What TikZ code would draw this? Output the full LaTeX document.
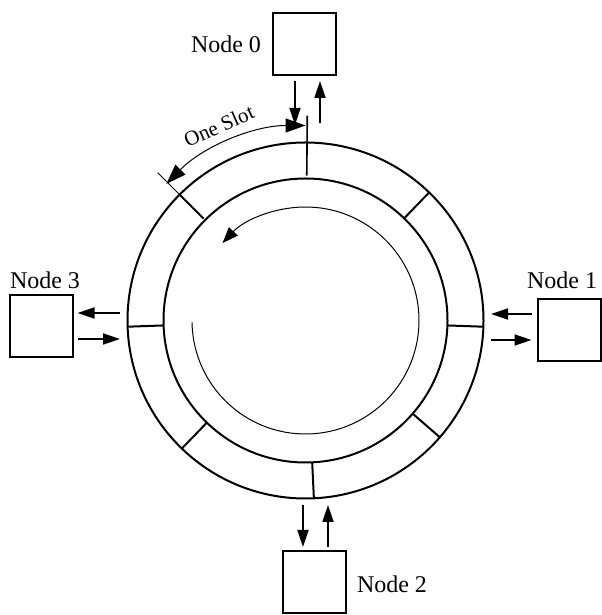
\documentclass[tikz,border=0pt]{standalone}
\usepackage{fontspec}
\setmainfont{Liberation Serif}
\usetikzlibrary{arrows.meta,calc}
\begin{document}
\begin{tikzpicture}[x=0.5pt,y=0.5pt,
  box/.style={draw,line width=1pt,minimum width=31.5pt,minimum height=31pt,inner sep=0pt},
  lbl/.style={font=\fontsize{12}{14}\selectfont,inner sep=0pt},
  ring/.style={line width=1pt},
  io/.style={line width=0.9pt,-{Triangle[length=8.5pt,width=5.5pt]}},
  dim/.style={line width=0.5pt},
  bigtip/.style={{Triangle[length=10pt,width=7pt]}-{Triangle[length=10pt,width=7pt]}},
]
\useasboundingbox (0,0) rectangle (601,615);
\coordinate (C) at (305.5,294.5);
% ring
\draw[ring] (C) circle[radius=178];
\draw[ring] (C) circle[radius=142];
\foreach \a in {46,-2,-41,272.7,226,182}
  \draw[ring] ($(C)+(\a:142)$) -- ($(C)+(\a:178)$);
\draw[line width=0.8pt] ($(C)+(89.5:145)$) -- ($(C)+(89.5:205)$);
\draw[ring] ($(C)+(135:144)$) -- ($(C)+(135:178)$);
\draw[dim] ($(C)+(135:178)$) -- ($(C)+(135:209)$);
% one slot dimension
\draw[dim,bigtip] ($(C)+(135.5:195)$) arc[start angle=135.5,end angle=90,radius=195];
\node[font=\fontsize{10.5}{12}\selectfont,rotate=24,inner sep=0pt] (slot) at ($(C)+(114:213)$) {One Slot};
% rotation arrow
\draw[line width=0.5pt,-{Triangle[length=8pt,width=6pt]}] ($(C)+(181:113.5)$) arc[start angle=181,end angle=497,radius=113.5];
% nodes
\node[box] (n0) at (304.5,571) {};
\node[box] (n3) at (41,288.5) {};
\node[box] (n1) at (569,284.5) {};
\node[box] (n2) at (314,33) {};
\node[lbl] (l0) at (226,571) {Node 0};
\node[lbl] (l3) at (45,335) {Node 3};
\node[lbl] (l1) at (562,335) {Node 1};
\node[lbl] (l2) at (392,30.5) {Node 2};
% node arrows
\coordinate (r0a) at (295,490);
\coordinate (r0b) at (320,492);
\draw[io] ($(n0.south -| r0a)+(0,-5)$) -- (r0a);
\draw[io] (r0b) -- ($(n0.south -| r0b)+(0,-5)$);
\coordinate (r3a) at (120,302);
\coordinate (r3b) at (120,276);
\draw[io] (r3a) -- ($(n3.east |- r3a)+(4,0)$);
\draw[io] ($(n3.east |- r3b)+(4,0)$) -- (r3b);
\coordinate (r1a) at (491,301);
\coordinate (r1b) at (491,275);
\draw[io] ($(n1.west |- r1a)+(-5,0)$) -- (r1a);
\draw[io] (r1b) -- ($(n1.west |- r1b)+(-5,0)$);
\coordinate (r2a) at (303,110);
\coordinate (r2b) at (328,110);
\draw[io] (r2a) -- ($(n2.north -| r2a)+(0,3)$);
\draw[io] ($(n2.north -| r2b)+(0,3)$) -- (r2b);
\end{tikzpicture}
\end{document}
